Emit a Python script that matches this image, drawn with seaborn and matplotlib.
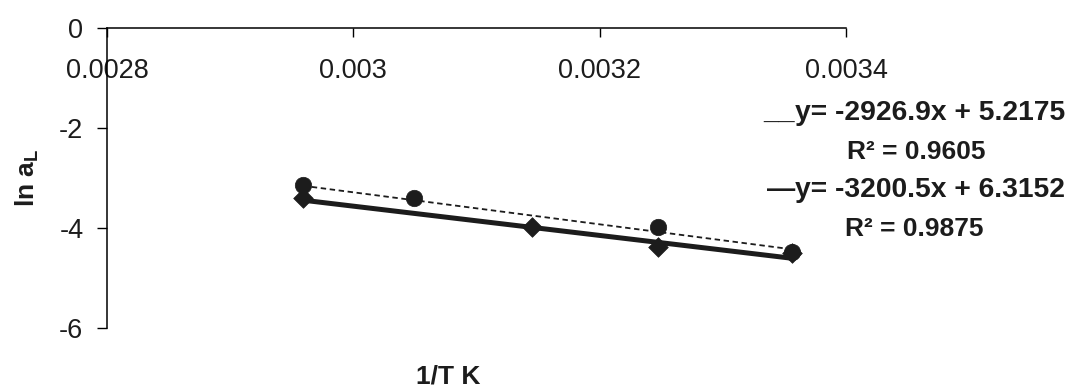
import numpy as np
import pandas as pd
import matplotlib
matplotlib.use("Agg")
import matplotlib.pyplot as plt
import seaborn as sns

# ---- data ----
inv_T_circles = [0.002959, 0.003049, 0.003247, 0.003356]
ln_aL_circles = [-3.14, -3.40, -3.97, -4.48]
inv_T_diamonds = [0.002959, 0.003145, 0.003247, 0.003356]
ln_aL_diamonds = [-3.40, -3.98, -4.38, -4.49]

# trend line coefficients (slope, intercept) and R^2 shown on the chart
fit_diamonds = (-2926.9, 5.2175)
r2_diamonds = 0.9605
fit_circles = (-3200.5, 6.3152)
r2_circles = 0.9875

x_ticks = [0.0028, 0.0030, 0.0032, 0.0034]
x_tick_labels = ["0.0028", "0.003", "0.0032", "0.0034"]
y_ticks = [0, -2, -4, -6]
y_tick_labels = ["0", "-2", "-4", "-6"]

# ---- style ----
sns.set_theme(style="white")
plt.rcParams["font.family"] = ["Liberation Sans", "DejaVu Sans"]
plt.rcParams["axes.unicode_minus"] = False
plt.rcParams["mathtext.fontset"] = "custom"
plt.rcParams["mathtext.rm"] = "Liberation Sans:bold"
plt.rcParams["mathtext.bf"] = "Liberation Sans:bold"

W, H = 1069, 388
fig = plt.figure(figsize=(W / 100, H / 100), dpi=100)
ax = fig.add_axes([107 / W, 1 - 328 / H, 739 / W, 300 / H])
ax.set_facecolor("white")

ink = "#1c1c1c"

# trend lines
def trend_frame(xs, coef):
    xr = np.array([min(xs), max(xs)])
    return pd.DataFrame({"x": xr, "y": coef[0] * xr + coef[1]})

td = trend_frame(inv_T_diamonds, fit_diamonds)
tc = trend_frame(inv_T_circles, fit_circles)
sns.lineplot(data=td, x="x", y="y", ax=ax, color=ink, linewidth=3.6, zorder=2)
sns.lineplot(data=tc, x="x", y="y", ax=ax, color=ink, linewidth=1.3,
             linestyle=(0, (3, 2)), zorder=2)

# markers
dfc = pd.DataFrame({"x": inv_T_circles, "y": ln_aL_circles})
dfd = pd.DataFrame({"x": inv_T_diamonds, "y": ln_aL_diamonds})
sns.scatterplot(data=dfd, x="x", y="y", ax=ax, marker="D", s=100, color=ink,
                edgecolor=ink, linewidth=0.5, zorder=3)
sns.scatterplot(data=dfc, x="x", y="y", ax=ax, marker="o", s=140, color=ink,
                edgecolor=ink, linewidth=0.5, zorder=4)

# axes
ax.set_xlim(0.0028, 0.0034)
ax.set_ylim(-6, 0)
ax.set_xticks(x_ticks)
ax.set_xticklabels(x_tick_labels)
ax.set_yticks(y_ticks)
ax.set_yticklabels(y_tick_labels)
ax.set_xlabel("")
ax.set_ylabel("")

for s in ["right", "bottom"]:
    ax.spines[s].set_visible(False)
for s in ["left", "top"]:
    ax.spines[s].set_color("black")
    ax.spines[s].set_linewidth(1.1)

ax.xaxis.set_ticks_position("top")
ax.tick_params(axis="x", direction="in", length=6.5, width=1.0, color="black",
               top=True, bottom=False, labeltop=True, labelbottom=False,
               pad=-40, labelsize=19.5, labelcolor=ink)
ax.tick_params(axis="y", direction="out", length=7, width=1.0, color="black",
               left=True, pad=10, labelsize=19.5, labelcolor=ink)

# axis titles
fig.text(448 / W, 1 - 377 / H, "1/T K", ha="center", va="center",
         fontsize=19, fontweight="bold", color=ink)
fig.text(27 / W, 1 - 178 / H, r"ln a$_{\mathbf{L}}$", ha="center", va="center",
         rotation=90, fontsize=19, fontweight="bold", color=ink)

# trendline equations
eq_fs = 20.3
r_fs = 19
fig.text(795 / W, 1 - 120 / H,
         f"y= {fit_diamonds[0]:.1f}x + {fit_diamonds[1]:.4f}",
         ha="left", va="baseline", fontsize=eq_fs, fontweight="bold", color=ink)
fig.text(795 / W, 1 - 120 / H, "__", ha="right", va="baseline",
         fontsize=eq_fs, fontweight="bold", color=ink)
fig.text(847 / W, 1 - 159 / H, f"R² = {r2_diamonds:.4f}",
         ha="left", va="baseline", fontsize=r_fs, fontweight="bold", color=ink)
fig.text(795 / W, 1 - 197 / H,
         f"y= {fit_circles[0]:.1f}x + {fit_circles[1]:.4f}",
         ha="left", va="baseline", fontsize=eq_fs, fontweight="bold", color=ink)
fig.text(795 / W, 1 - 197 / H, "—", ha="right", va="baseline",
         fontsize=eq_fs, fontweight="bold", color=ink)
fig.text(845 / W, 1 - 236 / H, f"R² = {r2_circles:.4f}",
         ha="left", va="baseline", fontsize=r_fs, fontweight="bold", color=ink)

fig.savefig("out.png", dpi=100, facecolor="white")
